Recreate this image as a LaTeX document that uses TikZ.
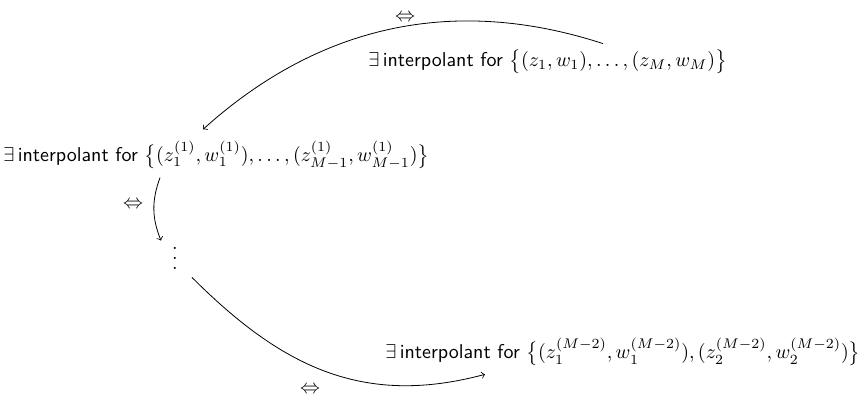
\documentclass[tikz,border=0pt]{standalone}
\begin{document}
\begin{tikzpicture}[x=0.5pt,y=-0.5pt,
  stmt/.style={anchor=west,inner sep=0pt},
  lbl/.style={inner sep=0pt},
  conn/.style={->,line width=0.4pt}]
\useasboundingbox (0,0) rectangle (866,399);
\node[stmt] (top) at (368,62) {$\exists$\,\textsf{interpolant for} $\bigl\{(z_1,w_1),\dots,(z_M,w_M)\bigr\}$};
\node[stmt] (mid) at (3,155) {$\exists$\,\textsf{interpolant for} $\bigl\{(z_1^{(1)},w_1^{(1)}),\dots,(z_{M-1}^{(1)},w_{M-1}^{(1)})\bigr\}$};
\node[lbl] (dots) at (175,258) {\vbox{\baselineskip5pt\lineskiplimit0pt\hbox{.}\hbox{.}\hbox{.}}};
\node[stmt] (bot) at (385,352) {$\exists$\,\textsf{interpolant for} $\bigl\{(z_1^{(M-2)},w_1^{(M-2)}),(z_2^{(M-2)},w_2^{(M-2)})\bigr\}$};
\coordinate (s1) at (top.north -| 603,0);
\coordinate (e1) at (mid.north -| 203,0);
\draw[conn] ([yshift=3pt]s1) to[out=162,in=42,looseness=0.98] ([yshift=5.5pt]e1);
\node[lbl] (l1) at (405,18) {$\Leftrightarrow$};
\draw[conn] ([yshift=-4pt]mid.south -| 160,0) to[out=250,in=112] ([yshift=3pt]dots.north -| 161,0);
\node[lbl] (l2) at (133,205) {$\Leftrightarrow$};
\draw[conn] ([yshift=-4pt]dots.south -| 192,0) to[out=-45,in=195,looseness=1.05] ([yshift=-4pt]bot.south -| 485,0);
\node[lbl] (l3) at (310,390) {$\Leftrightarrow$};
\end{tikzpicture}
\end{document}
